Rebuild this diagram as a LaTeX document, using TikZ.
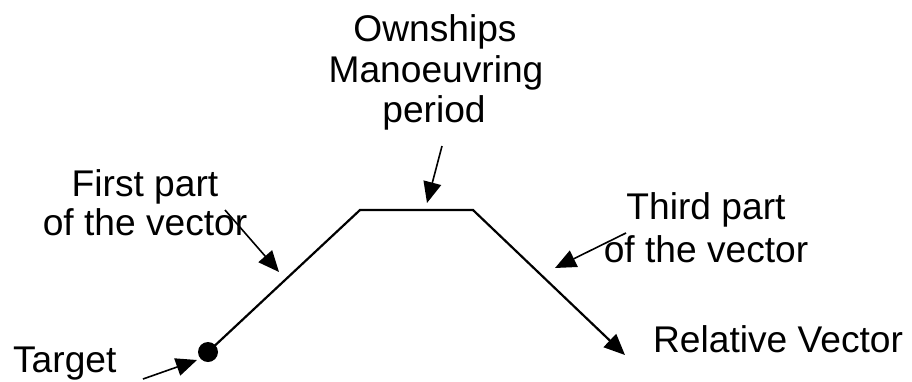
\documentclass[tikz,border=0pt]{standalone}
\usepackage{fontspec}
\setmainfont{Liberation Sans}
\usetikzlibrary{arrows.meta}
\begin{document}
\begin{tikzpicture}[x=1bp,y=-1bp,line width=2.2bp,
  lbl/.style={font=\fontsize{37.3}{44}\selectfont,inner sep=0pt,anchor=base},
  ptr/.style={-{Triangle[length=21bp,width=18bp]}}]
\useasboundingbox (0,0) rectangle (912,381);
% main vector
\coordinate (start) at (208,352);
\coordinate (c1) at (360,210);
\coordinate (c2) at (473,210);
\coordinate (endv) at (625,355);
\fill (start) circle[radius=10];
\draw[ptr,line join=miter] (start) -- (c1) -- (c2) -- (endv);
% labels
\node[lbl] (own1) at (435,41) {Ownships};
\node[lbl] (own2) at (436,82) {Manoeuvring};
\node[lbl] (own3) at (434,122) {period};
\node[lbl] (fp1) at (145,196) {First part};
\node[lbl] (fp2) at (145,235) {of the vector};
\node[lbl] (tp1) at (706,219) {Third part};
\node[lbl] (tp2) at (706,262) {of the vector};
\node[lbl,anchor=base west] (rv) at (652,352) {Relative Vector};
\node[lbl,anchor=base west] (tg) at (12,372) {Target};
% pointer arrows
\coordinate (a1s) at (442,146); \coordinate (a1e) at (427,203);
\coordinate (a2s) at (225,210); \coordinate (a2e) at (279,272);
\coordinate (a3s) at (626,233); \coordinate (a3e) at (555,268);
\coordinate (a4s) at (143,379); \coordinate (a4e) at (197,360);
\draw[ptr,line width=1.6bp] (a1s) -- (a1e);
\draw[ptr,line width=1.6bp] (a2s) -- (a2e);
\draw[ptr,line width=1.6bp] (a3s) -- (a3e);
\draw[ptr,line width=1.6bp] (a4s) -- (a4e);
\end{tikzpicture}
\end{document}
